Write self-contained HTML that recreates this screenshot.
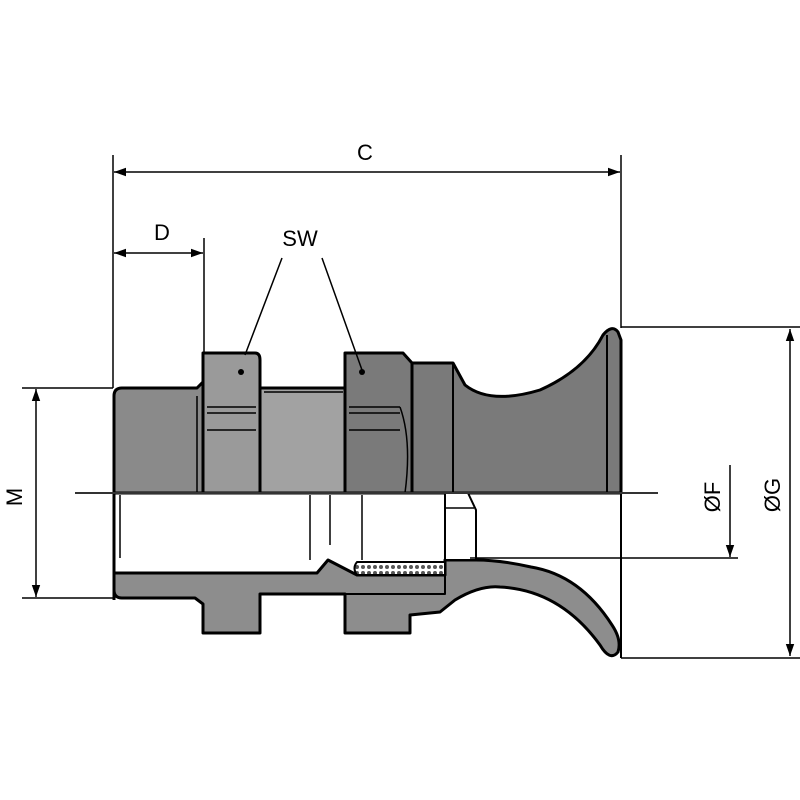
<!DOCTYPE html>
<html><head><style>html,body{margin:0;padding:0;background:#fff}svg{display:block}</style></head>
<body>
<svg width="800" height="800" viewBox="0 0 800 800" xmlns="http://www.w3.org/2000/svg" font-family="Liberation Sans, Arial, sans-serif">
<defs>
<marker id="a" viewBox="0 0 10 10" refX="10" refY="5" markerWidth="12" markerHeight="12" markerUnits="userSpaceOnUse" orient="auto-start-reverse"><path d="M0,1.5 L10,5 L0,8.5 z" fill="#000"/></marker>
<pattern id="k" width="6" height="6" patternUnits="userSpaceOnUse"><rect width="6" height="6" fill="#fff"/><circle cx="3" cy="3" r="2" fill="#555"/></pattern>
</defs>
<g stroke="#000" stroke-width="3" stroke-linejoin="round">
<!-- top half -->
<path d="M114,493 L114,396 Q114,388 122,388 L197,388 L203,382 L203,493 Z" fill="#8a8a8a"/>
<path d="M260,493 L260,388 L345,388 L345,493 Z" fill="#a2a2a2"/>
<path d="M203,493 L203,353 L255,353 Q260,353 260,360 L260,493 Z" fill="#9a9a9a"/>
<path d="M345,493 L345,353 L403,353 L412,363 L412,493 Z" fill="#7a7a7a"/>
<path d="M412,493 L412,363 L453,363 L465,385 Q490,405 540,390 Q585,370 603,335 Q612,324 618,332 L621,340 L621,493 Z" fill="#7a7a7a"/>
<path d="M607,493 L607,335 M453,363 L453,493" fill="none" stroke-width="2"/>
<!-- bottom half -->
<path d="M114,493 L114,590 Q114,598 122,598 L195,598 L203,604 L203,633 L260,633 L260,594 L345,594 L345,633 L410,633 L410,615 L440,612 L455,600 Q480,585 500,587 Q560,590 600,645 Q610,662 618,652 Q622,640 612,625 Q580,575 531,567 Q500,560 476,560 L445,560 L445,575 L357,575 L328,560 L317,573 L114,573 Z" fill="#8d8d8d"/>
<path d="M345,594 L445,594 L445,560" fill="none" stroke-width="2"/>
<path d="M357,562 L445,562 L445,575 L357,575 Q352,568 357,562 Z" fill="url(#k)" stroke-width="2"/>
<path d="M445,493 L445,560 L476,560 L476,510 L468,493" fill="#fff" stroke-width="2"/>
<path d="M445,508 L474,508" fill="none" stroke-width="1.5"/>
<path d="M114,493 L114,600" fill="none"/>
</g>
<line x1="621" y1="493" x2="621" y2="658" stroke="#000" stroke-width="2"/>
<!-- inner lines -->
<g stroke="#000" stroke-width="1.5" fill="none">
<path d="M197,396 L197,493 M207,407 L256,407 M207,413 L256,413 M207,430 L256,430 M264,392 L343,392 M349,407 L400,407 M349,413 L400,413 M349,430 L400,430 M400,407 Q412,440 405,493"/>
<path d="M120,495 L120,558 M310,495 L310,560 M330,495 L330,545 M362,495 L362,560"/>
</g>
<circle cx="241" cy="372" r="3" fill="#000"/><circle cx="362" cy="372" r="3" fill="#000"/>
<!-- centerline -->
<line x1="75" y1="493" x2="658" y2="493" stroke="#333" stroke-width="2"/>
<!-- dims -->
<g stroke="#000" stroke-width="1.5" fill="none">
<path d="M113,155 L113,388 M621,155 L621,328 M204,238 L204,353"/>
<line x1="114" y1="172" x2="620" y2="172" marker-start="url(#a)" marker-end="url(#a)"/>
<line x1="114" y1="253" x2="203" y2="253" marker-start="url(#a)" marker-end="url(#a)"/>
<path d="M282,258 L245,355 M322,258 L362,370"/>
<path d="M22,388 L113,388 M22,598 L113,598"/>
<line x1="36" y1="389" x2="36" y2="597" marker-start="url(#a)" marker-end="url(#a)"/>
<path d="M621,327 L800,327 M621,658 L800,658 M470,558 L738,558"/>
<line x1="790" y1="329" x2="790" y2="656" marker-start="url(#a)" marker-end="url(#a)"/>
<line x1="730" y1="465" x2="730" y2="557" marker-end="url(#a)"/>
</g>
<g font-size="22" fill="#000" text-anchor="middle">
<text x="365" y="160">C</text>
<text x="162" y="240">D</text>
<text x="300" y="246">SW</text>
<text transform="translate(22,497) rotate(-90)">M</text>
<text transform="translate(720,497) rotate(-90)">ØF</text>
<text transform="translate(780,495) rotate(-90)">ØG</text>
</g>
</svg>
</body></html>
